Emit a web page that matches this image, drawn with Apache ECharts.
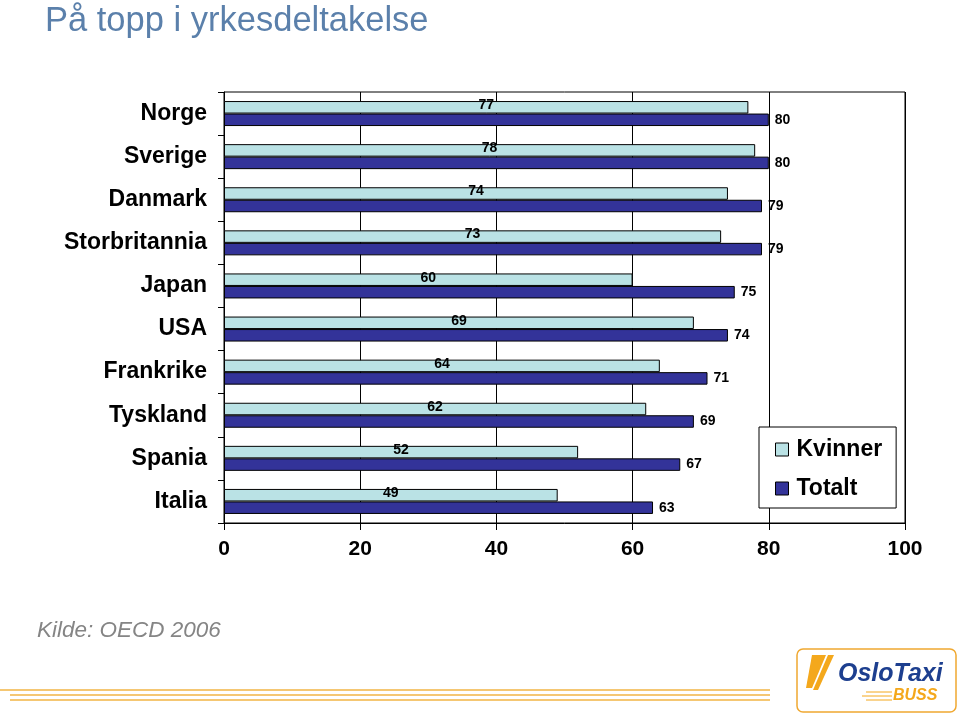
<!DOCTYPE html>
<html>
<head>
<meta charset="utf-8">
<script src="https://cdn.jsdelivr.net/npm/echarts@6/dist/echarts.min.js"></script>
<style>
html,body{margin:0;padding:0;background:#fff;}
#chart{width:960px;height:716px;}
</style>
</head>
<body>
<div id="chart"></div>
<script>
var categories = ['Norge','Sverige','Danmark','Storbritannia','Japan','USA','Frankrike','Tyskland','Spania','Italia'];
var kvinner = [77,78,74,73,60,69,64,62,52,49];
var totalt = [80,80,79,79,75,74,71,69,67,63];
var xTicks = [0,20,40,60,80,100];

var chart = echarts.init(document.getElementById('chart'), null, {renderer:'canvas'});
var font = 'Arial, "Liberation Sans", sans-serif';
var option = {
  backgroundColor: '#fff',
  animation: false,
  textStyle: {fontFamily: font},
  title: [
    {text: 'På topp i yrkesdeltakelse', left: 40, top: -1,
     textStyle: {fontSize: 34.5, fontWeight: 'normal', color: '#5b80ab', fontFamily: font}},
    {text: 'Kilde: OECD 2006', left: 32, top: 614,
     textStyle: {fontSize: 22.5, fontWeight: 'normal', fontStyle: 'italic', color: '#858585', fontFamily: font}}
  ],
  grid: {left: 224, right: 55, top: 92, bottom: 193, show: true, borderColor: '#000', borderWidth: 1, backgroundColor: '#fff'},
  legend: {
    orient: 'vertical', left: 759, top: 427,
    data: ['Kvinner','Totalt'],
    backgroundColor: '#fff', borderColor: '#000', borderWidth: 1,
    padding: [11, 14, 8, 16], itemGap: 16, itemWidth: 13, itemHeight: 13,
    icon: 'rect',
    itemStyle: {borderColor: '#000', borderWidth: 1},
    textStyle: {fontSize: 23, fontWeight: 'bold', color: '#000', fontFamily: font, padding: [0,0,0,3]}
  },
  xAxis: {
    type: 'value', min: 0, max: 100, interval: 20,
    axisLine: {show: true, lineStyle: {color: '#000', width: 1}},
    axisTick: {show: true, length: 7, lineStyle: {color: '#000'}},
    splitLine: {show: true, lineStyle: {color: '#000', width: 1}},
    axisLabel: {fontSize: 21, fontWeight: 'bold', color: '#000', margin: 16, fontFamily: font,
      formatter: function(v){ return xTicks.indexOf(v) >= 0 ? String(v) : ''; }}
  },
  yAxis: {
    type: 'category', data: categories, inverse: true,
    axisLine: {show: true, lineStyle: {color: '#000', width: 1}},
    axisTick: {show: true, length: 6, lineStyle: {color: '#000'}},
    axisLabel: {fontSize: 23, fontWeight: 'bold', color: '#000', margin: 17, fontFamily: font}
  },
  series: [
    {name: 'Kvinner', type: 'bar', data: kvinner, barGap: '0%', barCategoryGap: '42%',
     itemStyle: {color: '#bae2e5', borderColor: '#000', borderWidth: 1},
     label: {show: true, position: 'inside', offset: [0,-2], fontSize: 14, fontWeight: 'bold', color: '#000', fontFamily: font}},
    {name: 'Totalt', type: 'bar', data: totalt, barGap: '0%', barCategoryGap: '42%',
     itemStyle: {color: '#333399', borderColor: '#000', borderWidth: 1},
     label: {show: true, position: 'right', distance: 6, fontSize: 14, fontWeight: 'bold', color: '#000', fontFamily: font}}
  ],
  graphic: [
    {type: 'line', shape: {x1: 0, y1: 690, x2: 770, y2: 690}, style: {stroke: '#f2b544', lineWidth: 1.5}},
    {type: 'line', shape: {x1: 10, y1: 695, x2: 770, y2: 695}, style: {stroke: '#f2b544', lineWidth: 1.5}},
    {type: 'line', shape: {x1: 10, y1: 700, x2: 770, y2: 700}, style: {stroke: '#f2b544', lineWidth: 1.5}},
    {type: 'rect', shape: {x: 797, y: 649, width: 159, height: 63, r: 6}, style: {fill: '#fff', stroke: '#f0a830', lineWidth: 1.5}},
    {type: 'polygon', shape: {points: [[812,655],[826,655],[812,688],[806,688]]}, style: {fill: '#f4a81c'}},
    {type: 'polygon', shape: {points: [[828,655],[834,655],[818,690],[813,690]]}, style: {fill: '#f4a81c'}},
    {type: 'text', x: 838, y: 662, style: {text: 'OsloTaxi', fontSize: 25, fontWeight: 'bold', fontStyle: 'italic', fill: '#1d3f8f', fontFamily: font}},
    {type: 'line', shape: {x1: 866, y1: 692, x2: 892, y2: 692}, style: {stroke: '#f4a81c', lineWidth: 1}},
    {type: 'line', shape: {x1: 862, y1: 696, x2: 892, y2: 696}, style: {stroke: '#f4a81c', lineWidth: 1}},
    {type: 'line', shape: {x1: 866, y1: 700, x2: 892, y2: 700}, style: {stroke: '#f4a81c', lineWidth: 1}},
    {type: 'text', x: 893, y: 688, style: {text: 'BUSS', fontSize: 16, fontWeight: 'bold', fontStyle: 'italic', fill: '#f4a81c', fontFamily: font}}
  ]
};
chart.setOption(option);
</script>
</body>
</html>
